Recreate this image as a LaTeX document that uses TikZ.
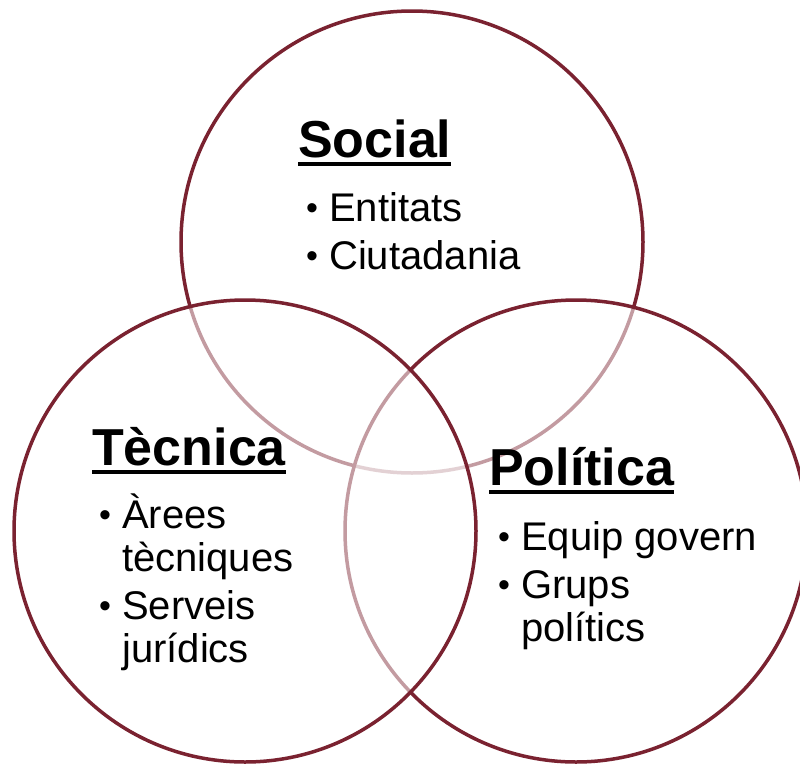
\documentclass[tikz,border=0pt]{standalone}
\usepackage{fontspec}
\setmainfont{Liberation Sans}
\usetikzlibrary{positioning}
\definecolor{vinaccia}{RGB}{122,34,48}
\tikzset{
    area/.style={
        circle,
        draw=vinaccia,
        line width=3.5pt,
        fill=white,
        fill opacity=0.55,
        draw opacity=1
    },
    titol/.style={
        anchor=base west,
        inner sep=0pt,
        font=\fontsize{52}{56}\selectfont\bfseries
    },
    llista/.style={
        anchor=base west,
        inner sep=0pt,
        font=\fontsize{40}{43}\selectfont
    }
}
\newcommand{\subratlla}[1]{\setbox0\hbox{#1}\rlap{\vrule width\wd0 height -5pt depth 9pt}\box0}
\newcommand{\punt}{\makebox[24pt][l]{\hspace{1pt}\raisebox{2pt}{\fontsize{34}{34}\selectfont\textbullet}}}

\begin{document}
\begin{tikzpicture}[x=1pt,y=-1pt]
          \useasboundingbox (0,0) rectangle (800,763);
          % cercles
          \draw [area] (412,242) circle[radius=231];
          \draw [area] (576,531) circle[radius=231];
          \draw [area] (245,531) circle[radius=231];
          % social
          \node (social) [titol] at (298,157) {\subratlla{Social}};
          \node (socialitems) [llista] at (305,221) {\begin{tabular}[t]{@{}l@{}l@{}}
              \punt & Entitats\\[5pt]
              \punt & Ciutadania
          \end{tabular}};
          % tecnica
          \node (tecnica) [titol] at (92,465) {\subratlla{Tècnica}};
          \node (tecnicaitems) [llista] at (98,528) {\begin{tabular}[t]{@{}l@{}l@{}}
              \punt & Àrees\\
                    & tècniques\\[5pt]
              \punt & Serveis\\
                    & jurídics
          \end{tabular}};
          % politica
          \node (politica) [titol] at (489,485) {\subratlla{Política}};
          \node (politicaitems) [llista] at (497,550) {\begin{tabular}[t]{@{}l@{}l@{}}
              \punt & Equip govern\\[5pt]
              \punt & Grups\\
                    & polítics
          \end{tabular}};
\end{tikzpicture}
\end{document}
